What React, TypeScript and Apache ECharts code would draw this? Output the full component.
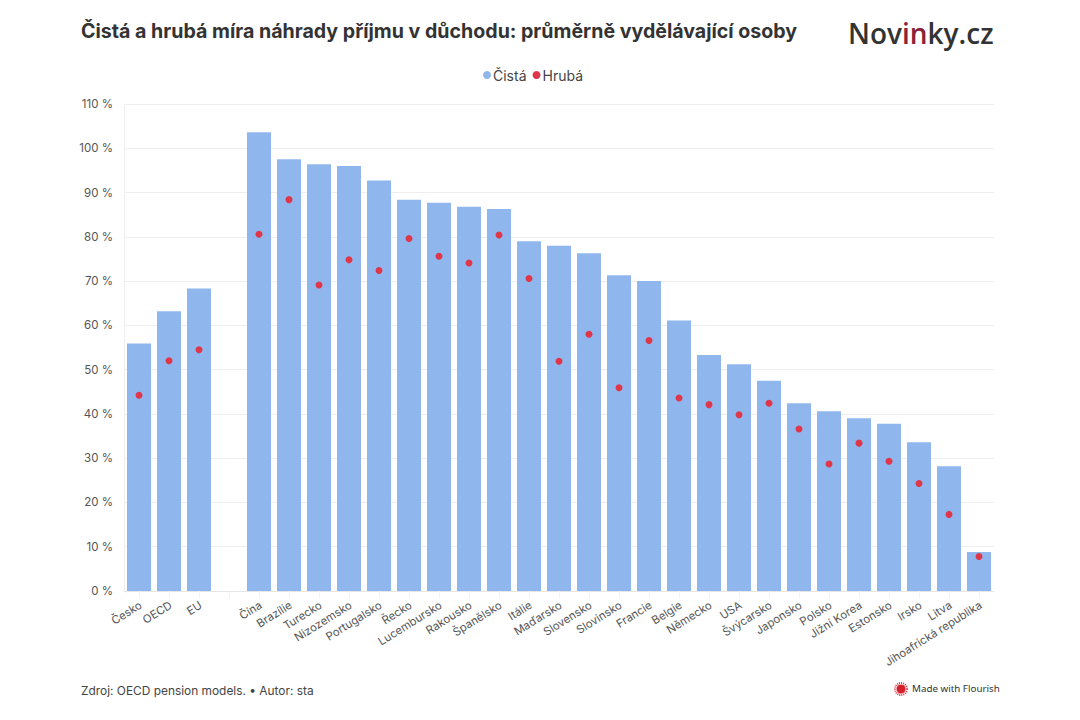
import React, { useEffect, useRef } from "react";
import * as echarts from "echarts";

const categories = ["Česko","OECD","EU","","Čína","Brazílie","Turecko","Nizozemsko","Portugalsko","Řecko","Lucembursko","Rakousko","Španělsko","Itálie","Maďarsko","Slovensko","Slovinsko","Francie","Belgie","Německo","USA","Švýcarsko","Japonsko","Polsko","Jižní Korea","Estonsko","Irsko","Litva","Jihoafrická republika"];
const cista = [55.9,63.2,68.3,null,103.6,97.5,96.4,96,92.7,88.4,87.7,86.8,86.3,79,78,76.3,71.3,70,61.1,53.3,51.2,47.5,42.4,40.6,39,37.8,33.6,28.2,8.8];
const hruba = [44.2,52,54.5,null,80.6,88.4,69.1,74.8,72.4,79.6,75.6,74.1,80.4,70.6,51.9,58,45.9,56.6,43.6,42.1,39.8,42.4,36.6,28.7,33.4,29.3,24.3,17.3,7.8];
const titleText = "Čistá a hrubá míra náhrady příjmu v důchodu: průměrně vydělávající osoby";
const footerText = "Zdroj: OECD pension models. • Autor: sta";

const FONT = "Inter";

export default function App() {
  const ref = useRef<HTMLDivElement>(null);
  useEffect(() => {
    const chart = echarts.init(ref.current!, null, { renderer: "svg" });
    chart.setOption({
      animation: false,
      backgroundColor: "#ffffff",
      textStyle: { fontFamily: FONT },
      grid: { left: 124, right: 86, top: 104, bottom: 129, containLabel: false },
      legend: {
        top: 63,
        left: 478,
        itemWidth: 8,
        itemHeight: 8,
        itemGap: 6,
        icon: "circle",
        selectedMode: false,
        data: ["Čistá", "Hrubá"],
        textStyle: { fontFamily: FONT, fontSize: 14, color: "#444", padding: [0, 0, 0, -3] },
      },
      xAxis: {
        type: "category",
        data: categories,
        axisTick: { show: true, alignWithLabel: true, length: 7, lineStyle: { color: "#f3f3f3" } },
        axisLine: { lineStyle: { color: "#e6e6e6" } },
        axisLabel: {
          interval: 0,
          rotate: 32,
          margin: 14,
          padding: [0, -2, 0, 0],
          fontFamily: FONT,
          fontSize: 11.3,
          color: "#555",
        },
      },
      yAxis: {
        type: "value",
        min: 0,
        max: 110,
        interval: 10,
        axisLine: { show: true, lineStyle: { color: "#eeeeee" } },
        axisTick: { show: false },
        splitLine: { lineStyle: { color: "#eeeeee" } },
        axisLabel: {
          formatter: "{value} %",
          margin: 11,
          fontFamily: FONT,
          fontSize: 11.5,
          color: "#555",
        },
      },
      series: [
        {
          name: "Čistá",
          type: "bar",
          data: cista,
          barWidth: 24,
          itemStyle: { color: "#8fb7ee" },
        },
        {
          name: "Hrubá",
          type: "scatter",
          data: hruba,
          symbol: "circle",
          symbolSize: 7,
          z: 5,
          itemStyle: { color: "#e0364a", opacity: 1 },
        },
      ],
      graphic: [
        {
          type: "text",
          left: 81,
          top: 21,
          style: { text: titleText, fontFamily: FONT, fontSize: 19.6, fontWeight: 700, fill: "#333333" },
        },
        {
          type: "text",
          left: 848,
          top: 19,
          style: {
            rich: {
              a: { fontFamily: "Open Sans", fontSize: 28, fontWeight: 600, fill: "#333333", color: "#333333" },
              b: { fontFamily: "Open Sans", fontSize: 28, fontWeight: 600, fill: "#8a2238", color: "#8a2238" },
            },
            text: "{a|Nov}{b|in}{a|ky.cz}",
          },
        },
        {
          type: "text",
          left: 81,
          top: 684,
          style: { text: footerText, fontFamily: FONT, fontSize: 11.9, fill: "#444444" },
        },
        {
          type: "circle",
          shape: { cx: 901, cy: 689, r: 4.5 },
          style: { fill: "#d6202c" },
        },
        {
          type: "circle",
          shape: { cx: 901, cy: 689, r: 6 },
          style: { fill: "none", stroke: "#e0404a", lineWidth: 2, lineDash: [1, 1] },
        },
        {
          type: "text",
          left: 912,
          top: 683,
          style: { text: "Made with Flourish", fontFamily: "Noto Sans", fontSize: 9.8, fill: "#333333" },
        },
      ],
    });
    return () => chart.dispose();
  }, []);
  return <div ref={ref} style={{ position: "fixed", left: 0, top: 0, width: 1080, height: 720 }} />;
}
